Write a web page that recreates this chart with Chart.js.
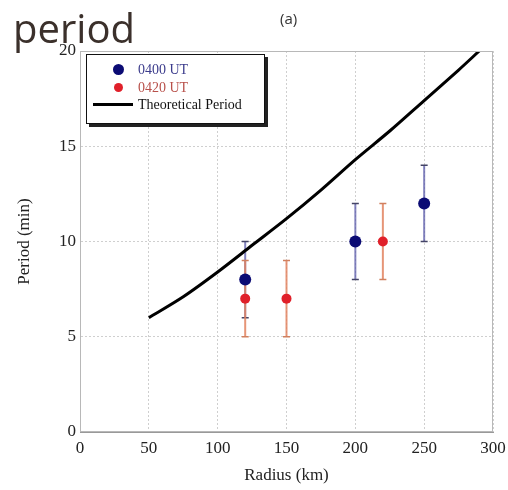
<!DOCTYPE html>
<html>
<head>
<meta charset="utf-8">
<script src="https://cdn.jsdelivr.net/npm/chart.js@4.4.0/dist/chart.umd.min.js"></script>
<style>
  html, body { margin: 0; padding: 0; background: #fff; }
  #wrap { position: relative; width: 508px; height: 490px; }
  #heading {
    position: absolute; left: 13px; top: 0px;
    font-family: "Open Sans", sans-serif; font-size: 40px; color: #3b302b;
  }
  #panel {
    position: absolute; left: 280px; top: 8px;
    font-family: "Open Sans", sans-serif; font-size: 15px; color: #333;
  }
  #legend {
    position: absolute; left: 86px; top: 54px; width: 177px; height: 68px;
    border: 1px solid #111; background: #fff;
    box-shadow: 3px 3px 0 #222;
    font-family: "Liberation Serif", serif; font-size: 14px;
  }
  .row { position: absolute; left: 0; height: 17px; line-height: 17px; }
  .row span { position: absolute; left: 51px; white-space: nowrap; }
  .dot { position: absolute; border-radius: 50%; }
  .bar { position: absolute; left: 6px; top: 7px; width: 40px; height: 3px; background: #000; }
</style>
</head>
<body>
<div id="wrap">
  <canvas id="chart" width="508" height="490"></canvas>
  <div id="heading">period</div>
  <div id="panel">(a)</div>
  <div id="legend">
    <div class="row" style="top:6px"><div class="dot" style="left:26px;top:3px;width:11px;height:11px;background:#0b0b74"></div><span style="color:#3c3c8c">0400 UT</span></div>
    <div class="row" style="top:24px"><div class="dot" style="left:27px;top:4px;width:9px;height:9px;background:#e0202a"></div><span style="color:#b8504a">0420 UT</span></div>
    <div class="row" style="top:41px"><div class="bar"></div><span style="color:#111">Theoretical Period</span></div>
  </div>
</div>
<script>
const radius0400 = [120, 200, 250];
const period0400 = [8, 10, 12];
const low0400 = [6, 8, 10];
const high0400 = [10, 12, 14];

const radius0420 = [120, 150, 220];
const period0420 = [7, 7, 10];
const low0420 = [5, 5, 8];
const high0420 = [9, 9, 12];

const theoryRadius = [50, 75, 100, 125, 150, 175, 200, 225, 250, 275, 290];
const theoryPeriod = [6, 7.1, 8.4, 9.8, 11.2, 12.7, 14.3, 15.8, 17.4, 19.0, 20];

const toPoints = (xs, ys) => xs.map((x, i) => ({ x: x, y: ys[i] }));

// error bars and plot frame, positioned through the chart scales
const errorBars = {
  id: "errorBars",
  beforeDatasetsDraw(chart) {
    const ctx = chart.ctx;
    const xs = chart.scales.x;
    const ys = chart.scales.y;
    chart.data.datasets.forEach(ds => {
      if (!ds.errLow) return;
      ds.data.forEach((p, i) => {
        const px = xs.getPixelForValue(p.x);
        const top = ys.getPixelForValue(ds.errHigh[i]);
        const bot = ys.getPixelForValue(ds.errLow[i]);
        ctx.save();
        ctx.strokeStyle = ds.errColor;
        ctx.lineWidth = 2;
        ctx.beginPath();
        ctx.moveTo(px, top);
        ctx.lineTo(px, bot);
        ctx.stroke();
        ctx.strokeStyle = ds.capColor;
        ctx.lineWidth = 1.5;
        ctx.beginPath();
        ctx.moveTo(px - 3.5, top);
        ctx.lineTo(px + 3.5, top);
        ctx.moveTo(px - 3.5, bot);
        ctx.lineTo(px + 3.5, bot);
        ctx.stroke();
        ctx.restore();
      });
    });
  },
  afterDraw(chart) {
    const a = chart.chartArea;
    const ctx = chart.ctx;
    ctx.save();
    ctx.strokeStyle = "#b8b8b8";
    ctx.lineWidth = 1;
    ctx.strokeRect(a.left + 0.5, a.top + 0.5, a.right - a.left - 1, a.bottom - a.top - 1);
    ctx.restore();
  }
};

new Chart(document.getElementById("chart"), {
  type: "scatter",
  data: {
    datasets: [
      {
        label: "Theoretical Period",
        data: toPoints(theoryRadius, theoryPeriod),
        showLine: true,
        borderColor: "#000",
        borderWidth: 3,
        pointRadius: 0,
        tension: 0.3,
        order: 0
      },
      {
        label: "0400 UT",
        data: toPoints(radius0400, period0400),
        backgroundColor: "#0b0b74",
        borderWidth: 0,
        pointRadius: 6,
        errLow: low0400,
        errHigh: high0400,
        errColor: "rgba(90,90,170,0.75)",
        capColor: "#444466",
        order: 1
      },
      {
        label: "0420 UT",
        data: toPoints(radius0420, period0420),
        backgroundColor: "#e0202a",
        borderWidth: 0,
        pointRadius: 5,
        errLow: low0420,
        errHigh: high0420,
        errColor: "rgba(226,130,95,0.85)",
        capColor: "#d0805f",
        order: 2
      }
    ]
  },
  options: {
    responsive: false,
    animation: false,
    layout: { padding: { top: 51, right: 0, left: 10, bottom: 0 } },
    plugins: { legend: { display: false }, tooltip: { enabled: false } },
    scales: {
      x: {
        min: 0, max: 300,
        ticks: { stepSize: 50, color: "#222", font: { family: "Liberation Serif", size: 17 }, padding: 6 },
        grid: { color: "#cfcfcf", tickLength: 0, drawTicks: false },
        border: { color: "#999", dash: [2, 2] },
        title: { display: true, text: "Radius (km)", color: "#222", font: { family: "Liberation Serif", size: 17 }, padding: { top: 6 } },
        afterFit(s) { s.height = 58; s.paddingRight = 15; s.paddingLeft = 0; }
      },
      y: {
        min: 0, max: 20,
        ticks: { stepSize: 5, color: "#222", font: { family: "Liberation Serif", size: 17 }, padding: 4 },
        grid: { color: "#cfcfcf", drawTicks: false },
        border: { color: "#999", dash: [2, 2] },
        title: { display: true, text: "Period (min)", color: "#222", font: { family: "Liberation Serif", size: 17 } },
        afterFit(s) { s.width = 70; s.paddingTop = 0; s.paddingBottom = 0; }
      }
    }
  },
  plugins: [errorBars]
});
</script>
</body>
</html>
